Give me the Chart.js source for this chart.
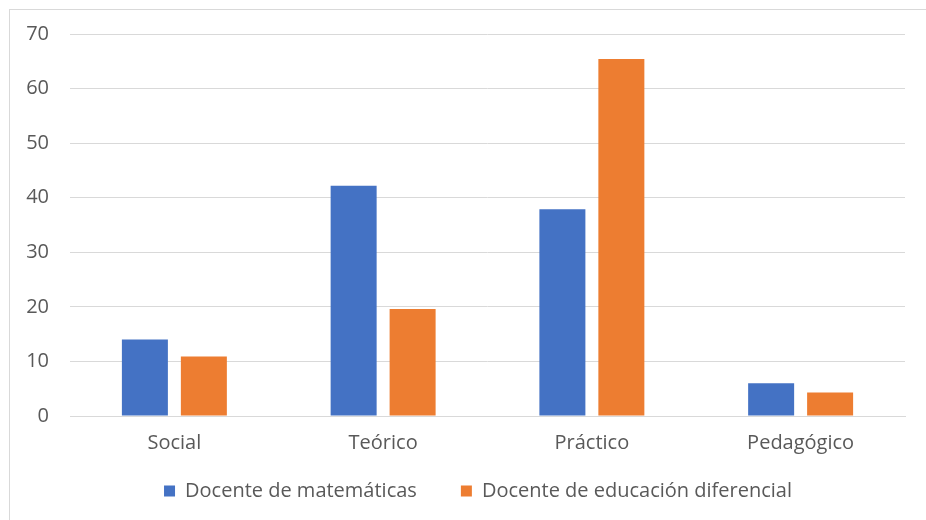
<!DOCTYPE html>
<html>
<head>
<meta charset="utf-8">
<script src="https://cdn.jsdelivr.net/npm/chart.js@4.4.1/dist/chart.umd.min.js"></script>
<style>
  html, body { margin: 0; padding: 0; background: #fff; }
  #wrap { position: relative; width: 926px; height: 520px; }
  #frame { position: absolute; left: 9px; top: 9px; width: 930px; height: 520px;
           border-left: 1px solid #d9d9d9; border-top: 1px solid #d9d9d9; }
  canvas { position: absolute; left: 0; top: 0; }
</style>
</head>
<body>
<div id="wrap">
  <div id="frame"></div>
  <canvas id="chart" width="926" height="520"></canvas>
</div>
<script>
const categories = ['Social', 'Teórico', 'Práctico', 'Pedagógico'];
const matematicas = [14, 42.2, 37.9, 6];
const diferencial = [10.9, 19.6, 65.4, 4.3];
const seriesNames = ['Docente de matemáticas', 'Docente de educación diferencial'];

const textColor = '#595959';
const gridColor = '#d9d9d9';
const font = { family: 'Open Sans', size: 20 };

// the legend sits centred under the plot, a bit higher than its own box
const moveLegend = {
  id: 'moveLegend',
  afterLayout(chart) {
    const lg = chart.legend;
    lg.left += 25.5; lg.right += 25.5;
    lg.top = 437; lg.bottom = 520;
  }
};

new Chart(document.getElementById('chart'), {
  type: 'bar',
  data: {
    labels: categories,
    datasets: [{
      label: seriesNames[0],
      data: matematicas,
      backgroundColor: '#4472c4',
      categoryPercentage: 0.565,
      barPercentage: 0.78
    }, {
      label: seriesNames[1],
      data: diferencial,
      backgroundColor: '#ed7d31',
      categoryPercentage: 0.565,
      barPercentage: 0.78
    }]
  },
  plugins: [moveLegend],
  options: {
    responsive: false,
    animation: false,
    layout: { padding: { top: 34, right: 21, bottom: 10, left: 0 } },
    plugins: {
      tooltip: { enabled: false },
      legend: {
        position: 'bottom',
        maxHeight: 56,
        labels: {
          color: textColor,
          font: font,
          boxWidth: 11,
          boxHeight: 11,
          padding: 44
        }
      }
    },
    scales: {
      x: {
        afterFit: function (scale) { scale.height = 38; },
        grid: { display: false },
        border: { color: gridColor },
        ticks: { color: textColor, font: font, padding: 7 }
      },
      y: {
        min: 0,
        max: 70,
        afterFit: function (scale) { scale.width = 70; },
        border: { display: false },
        grid: { color: gridColor, drawTicks: false },
        ticks: { stepSize: 10, color: textColor, font: font, padding: 21 }
      }
    }
  }
});
</script>
</body>
</html>
